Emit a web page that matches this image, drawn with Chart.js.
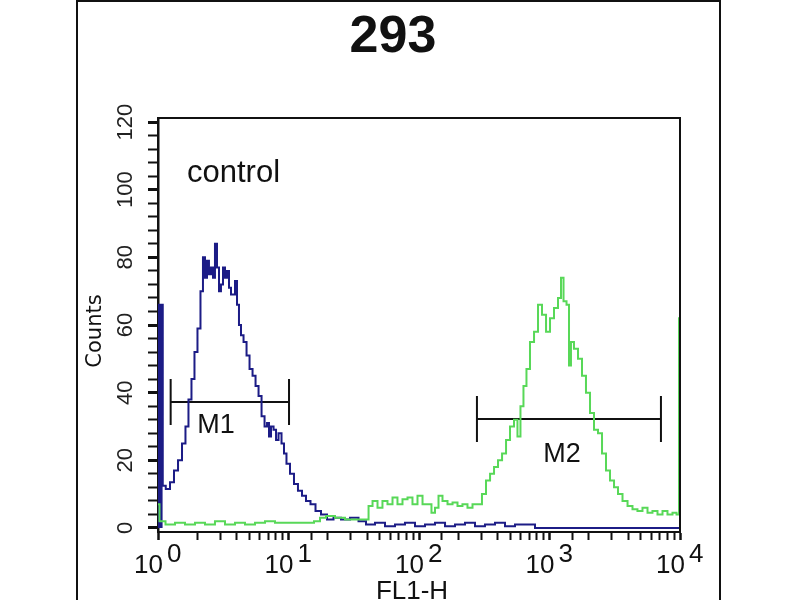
<!DOCTYPE html>
<html><head><meta charset="utf-8">
<script src="https://cdn.jsdelivr.net/npm/chart.js@4"></script>
<style>html,body{margin:0;padding:0;background:#fff}canvas{display:block}</style>
</head><body>
<canvas id="c" width="800" height="600"></canvas>
<script>
const chartTitle = '293';
const xAxisTitle = 'FL1-H';
const yAxisTitle = 'Counts';
const sampleLabel = 'control';
const xTickExponents = [0, 1, 2, 3, 4];
const yTickValues = [0, 20, 40, 60, 80, 100, 120];
const yMinorPerMajor = 5;

// control (blue) histogram: position in decades of FL1-H, counts
const controlLogFL1 = [0,0.031,0.042,0.077,0.107,0.138,0.169,0.199,0.222,0.245,0.268,0.291,0.314,0.337,0.352,0.368,0.383,0.398,0.414,0.429,0.444,0.46,0.475,0.49,0.506,0.521,0.536,0.552,0.567,0.582,0.598,0.613,0.628,0.644,0.667,0.69,0.713,0.736,0.759,0.782,0.805,0.828,0.843,0.858,0.874,0.897,0.912,0.935,0.958,0.973,0.996,1.027,1.057,1.088,1.119,1.149,1.188,1.226,1.272,1.318,1.372,1.433,1.51,1.563,1.625,1.701,1.778,1.854,1.931,2.008,2.084,2.161,2.238,2.314,2.391,2.467,2.544,2.621,2.697,2.774,2.851,2.927,4.0];
const controlCounts = [66,66,12.5,11.5,13.5,17,20,25,30,38,44,52,59,70,80,74,79,75,77,74,84,77,70,72,77,74,76,71,69,69,73,66,60,57,55,51,47,45,42,39,33,30,31,27,30,29,26,28,25,22,19,16,13,11,9.5,8,7,5,4,2.5,3,2.5,3,2,1,1.5,0.5,1,1.5,0.5,1,1.5,0.5,1,1.5,0.5,1,1.5,0.5,1,1,0,0];

// sample (green) histogram
const sampleLogFL1 = [0,0.023,0.092,0.169,0.245,0.322,0.398,0.475,0.552,0.628,0.705,0.782,0.858,0.935,1.011,1.088,1.165,1.226,1.257,1.318,1.395,1.471,1.548,1.602,1.625,1.663,1.701,1.739,1.778,1.816,1.854,1.893,1.931,1.969,2.008,2.046,2.084,2.107,2.138,2.161,2.199,2.238,2.276,2.314,2.352,2.391,2.429,2.467,2.498,2.529,2.56,2.59,2.621,2.652,2.682,2.713,2.743,2.766,2.789,2.812,2.835,2.866,2.897,2.927,2.958,2.989,3.019,3.05,3.08,3.096,3.119,3.142,3.157,3.172,3.203,3.234,3.264,3.295,3.326,3.356,3.387,3.418,3.448,3.479,3.51,3.54,3.579,3.617,3.655,3.693,3.732,3.77,3.808,3.847,3.885,3.923,3.962,3.985,4.0];
const sampleCounts = [7,2,1,1.5,1,1.5,1,2,1,1.5,1,1.5,2,1.5,1.5,1.5,1.5,2,3,3.5,3,2.5,2.5,2.5,6.5,8,6,8,7,9,7,8.5,9,7,9.5,7,7,4.5,6,9.5,8,7,7.5,6.5,7,6,7,7,10,14,16,18,20,22,26,30,32,27,36,42,47,55,58,66,63,58,62,65,68,74,67,66,48,55,53,50,45,40,34,29,28,22,17,14,12,10,8,6.5,5.5,5,6,4.5,5,4,5,4,4.5,4,62];

// gates
const gateNames = ['M1', 'M2'];
const gateLogStart = [0.097, 2.444];
const gateLogEnd = [1.004, 3.854];
const gateCounts = [37.2, 32.2];
const gateLabelLog = [0.444, 3.096];
const gateLabelCounts = [30.2, 21.6];
const sampleLabelLog = 0.222;
const sampleLabelCounts = 102.3;

const GATE_HALF = 6.8;
const BLUE = '#1c1c86';
const GREEN = '#58d858';

function toPts(logs, counts) { return logs.map((d, i) => ({x: Math.pow(10, d), y: counts[i]})); }
function gatePts(i) {
  const a = Math.pow(10, gateLogStart[i]), b = Math.pow(10, gateLogEnd[i]), y = gateCounts[i];
  return [{x:a,y:y+GATE_HALF},{x:a,y:y-GATE_HALF},{x:a,y:y},{x:b,y:y},{x:b,y:y+GATE_HALF},{x:b,y:y-GATE_HALF}];
}
// first (piled-up) channel of the control histogram, drawn as a filled bin
const firstBinPts = [
  {x: Math.pow(10, controlLogFL1[0]), y: controlCounts[0]},
  {x: Math.pow(10, (controlLogFL1[1] + controlLogFL1[2]) / 2), y: controlCounts[1]}
];

const yTicks = [];
for (let i = 0; i <= (yTickValues.length - 1) * yMinorPerMajor; i++) yTicks.push(i * 20 / yMinorPerMajor);
function isMajorY(v) { return Math.abs(v / 20 - Math.round(v / 20)) < 1e-6; }
function isDecade(v) { const l = Math.log10(v); return Math.abs(l - Math.round(l)) < 1e-6; }

const decor = {
  id: 'decor',
  beforeDraw(chart) {
    const c = chart.ctx;
    c.save();
    c.fillStyle = '#fff';
    c.fillRect(0, 0, chart.width, chart.height);
    c.strokeStyle = '#111';
    c.lineWidth = 2;
    c.beginPath();
    c.moveTo(77, 600); c.lineTo(77, 1); c.lineTo(720, 1); c.lineTo(720, 600);
    c.stroke();
    c.restore();
  },
  afterDraw(chart) {
    const c = chart.ctx, xs = chart.scales.x, ys = chart.scales.y, a = chart.chartArea;
    c.save();
    c.strokeStyle = '#111';
    c.lineWidth = 2;
    c.beginPath();
    c.moveTo(a.left, a.top); c.lineTo(a.right, a.top); c.lineTo(a.right, a.bottom);
    c.stroke();
    c.fillStyle = '#111';
    // title
    c.font = 'bold 52px "Liberation Sans", Arial, sans-serif';
    c.textAlign = 'center'; c.textBaseline = 'alphabetic';
    c.fillText(chartTitle, 393, 52);
    // sample label
    c.font = '31px "Liberation Sans", Arial, sans-serif';
    c.textAlign = 'left';
    c.fillText(sampleLabel, xs.getPixelForValue(Math.pow(10, sampleLabelLog)), ys.getPixelForValue(sampleLabelCounts));
    // gate labels
    c.font = '27px "Liberation Sans Narrow", "Liberation Sans", sans-serif';
    c.textAlign = 'center'; c.textBaseline = 'middle';
    gateNames.forEach((n, i) => c.fillText(n, xs.getPixelForValue(Math.pow(10, gateLabelLog[i])), ys.getPixelForValue(gateLabelCounts[i])));
    // x tick labels with superscripts
    c.font = '26px "Liberation Sans Narrow", "Liberation Sans", sans-serif';
    c.textBaseline = 'alphabetic';
    xTickExponents.forEach(e => {
      const px = xs.getPixelForValue(Math.pow(10, e));
      c.textAlign = 'right'; c.fillText('10', px + 5, 573);
      c.textAlign = 'left'; c.fillText(String(e), px + 9, 562);
    });
    // x axis title
    c.textAlign = 'center';
    c.fillText(xAxisTitle, 412, 599);
    // y axis title
    c.translate(96, 331);
    c.rotate(-Math.PI / 2);
    c.font = '21px "DejaVu Sans", sans-serif';
    c.textAlign = 'center'; c.textBaseline = 'middle';
    c.fillText(yAxisTitle, 0, 0);
    c.restore();
  }
};

new Chart(document.getElementById('c'), {
  type: 'line',
  data: {
    datasets: [
      {label: 'sample', data: toPts(sampleLogFL1, sampleCounts), borderColor: GREEN, borderWidth: 2, stepped: 'middle', pointRadius: 0, clip: false},
      {label: 'control first bin', data: firstBinPts, borderColor: BLUE, backgroundColor: BLUE, borderWidth: 1, fill: 'origin', stepped: 'before', pointRadius: 0},
      {label: 'control', data: toPts(controlLogFL1, controlCounts), borderColor: BLUE, borderWidth: 2, stepped: 'middle', pointRadius: 0, clip: false},
      {label: gateNames[0], data: gatePts(0), borderColor: '#111', borderWidth: 2, pointRadius: 0, tension: 0},
      {label: gateNames[1], data: gatePts(1), borderColor: '#111', borderWidth: 2, pointRadius: 0, tension: 0}
    ]
  },
  options: {
    responsive: false,
    animation: false,
    devicePixelRatio: 1,
    layout: {padding: {top: 118, right: 120, left: 0, bottom: 0}},
    plugins: {legend: {display: false}, tooltip: {enabled: false}, title: {display: false}, filler: {propagate: false}},
    scales: {
      x: {
        type: 'logarithmic', min: 1, max: 10000,
        ticks: {display: false, autoSkip: false},
        grid: {drawOnChartArea: false, drawTicks: true, tickLength: 8, tickColor: '#111',
               tickWidth: ctx => (ctx.tick && isDecade(ctx.tick.value)) ? 2.5 : 2},
        border: {display: true, color: '#111', width: 2},
        afterFit(s) { s.height = 68; s.paddingLeft = 0; s.paddingRight = 0; }
      },
      y: {
        type: 'linear', min: -1.2, max: 121.2,
        afterBuildTicks(s) { s.ticks = yTicks.map(v => ({value: v})); },
        ticks: {autoSkip: false, minRotation: 90, maxRotation: 90, crossAlign: 'center', padding: 4,
                color: '#222', font: {family: '"Liberation Sans", Arial, sans-serif', size: 22},
                callback: v => isMajorY(v) ? String(Math.round(v)) : ''},
        grid: {drawOnChartArea: false, drawTicks: true, tickLength: 10, tickColor: '#111',
               tickWidth: ctx => (ctx.tick && isMajorY(ctx.tick.value)) ? 3 : 2},
        border: {display: true, color: '#111', width: 2.5},
        afterFit(s) { s.width = 158; s.paddingTop = 0; s.paddingBottom = 0; }
      }
    }
  },
  plugins: [decor]
});
</script>
</body></html>
